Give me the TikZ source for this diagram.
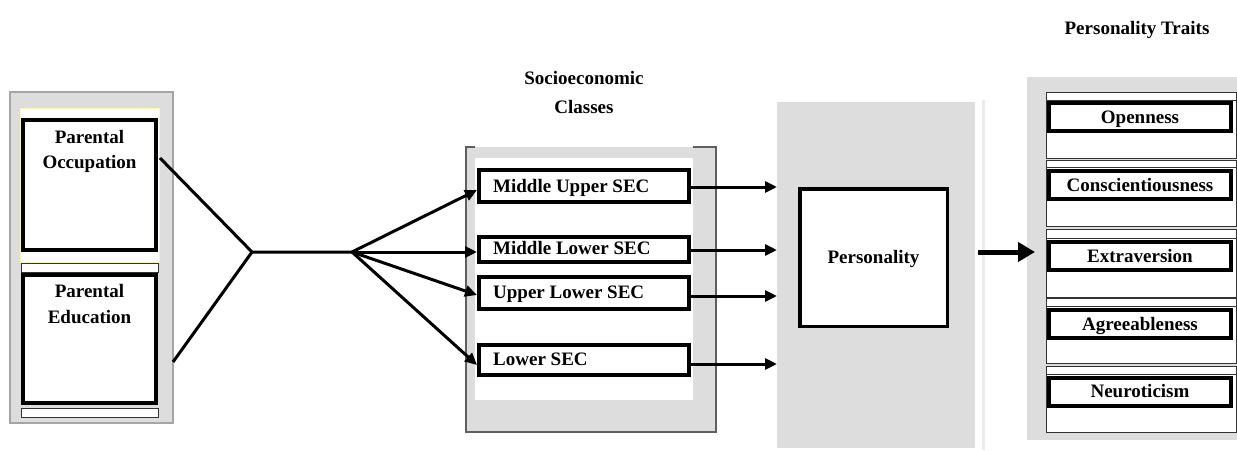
\documentclass[tikz,border=0pt]{standalone}
\usepackage{fontspec}
\setmainfont{Liberation Serif}
\usetikzlibrary{arrows.meta}
\definecolor{panel}{RGB}{221,221,221}
\definecolor{paneledge}{RGB}{165,165,165}
\definecolor{darkedge}{RGB}{95,95,95}
\definecolor{paleyellow}{RGB}{250,246,190}
\definecolor{sepline}{RGB}{236,236,236}
\begin{document}
\begin{tikzpicture}[x=1pt,y=-1pt,
  lbl/.style={font=\fontsize{19}{25}\selectfont\bfseries, inner sep=0pt},
  thickbox/.style={draw=black, fill=white, line width=4pt, inner sep=0pt},
  thinbox/.style={draw=black!80, fill=white, line width=0.8pt},
  trait/.style={thickbox, minimum width=182pt, minimum height=28pt,
    font=\fontsize{19}{25}\selectfont\bfseries, text height=12.5pt, text depth=0pt},
  link/.style={line width=3pt},
  arr/.style={line width=3pt, -{Triangle[length=12pt,width=11pt]}},
  bigarr/.style={line width=5pt, -{Triangle[length=17pt,width=19pt]}},
]
\useasboundingbox (0,0) rectangle (1237,450);

% ---------- left panel ----------
\fill[panel] (10,92) rectangle (173,423);
\draw[paneledge, line width=1.2pt] (10,92) rectangle (173,423);
\draw[paleyellow, fill=white, line width=0.8pt] (20,108) rectangle (159,262);
\node[thickbox, minimum width=133pt, minimum height=130pt] (occ) at (89.5,185) {};
\draw[thinbox] (21,263) rectangle (158,272);
\node[thickbox, minimum width=133pt, minimum height=128pt] (edu) at (89.5,339) {};
\draw[thinbox] (21,408) rectangle (158,417);
\node[lbl, align=center, anchor=base] (occt) at (89.5,168) {Parental\\Occupation};
\node[lbl, align=center, anchor=base] (edut) at (89.5,323) {Parental\\[1pt]Education};

% ---------- junction lines ----------
\coordinate (o1) at (160,158);
\coordinate (e1) at (173,362);
\coordinate (j1) at (252,252);
\coordinate (j2) at (352,252);
\draw[link] (o1) -- (j1) -- (j2);
\draw[link] (e1) -- (j1);

% ---------- middle panel ----------
\fill[panel] (466,147) rectangle (716,432);
\draw[darkedge, line width=1.2pt] (475,147) -- (466,147) -- (466,432) -- (716,432) -- (716,147) -- (693,147);
\fill[white] (475,158) rectangle (693,400);
\node[lbl, align=center, anchor=base] (sect) at (584,113) {Socioeconomic\\[4pt]Classes};

\node[thickbox, minimum width=210pt, minimum height=32pt] (mu) at (584,186) {};
\node[thickbox, minimum width=210pt, minimum height=25pt] (ml) at (584,249.5) {};
\node[thickbox, minimum width=210pt, minimum height=32pt] (ul) at (584,293) {};
\node[thickbox, minimum width=210pt, minimum height=30pt] (lo) at (584,360) {};
\node[lbl, anchor=base west] (mut) at (493,192) {Middle Upper SEC};
\node[lbl, anchor=base west] (mlt) at (493,254) {Middle Lower SEC};
\node[lbl, anchor=base west] (ult) at (493,298) {Upper Lower SEC};
\node[lbl, anchor=base west] (lot) at (493,365) {Lower SEC};

\draw[arr] (j2) -- ([yshift=-4pt]mu.west);
\draw[arr] (j2) -- ([yshift=-2.5pt]ml.west);
\draw[arr] (j2) -- ([yshift=-2pt]ul.west);
\draw[arr] (j2) -- ([yshift=-5pt]lo.west);

% ---------- personality panel ----------
\node[fill=panel, minimum width=198pt, minimum height=346pt, inner sep=0pt, outer sep=0pt] (pp) at (876,275) {};
\draw[sepline, line width=3pt] (983,100) -- (983,450);
\node[thickbox, line width=3.5pt, minimum width=147.5pt, minimum height=137.5pt,
      font=\fontsize{19}{25}\selectfont\bfseries, text height=12.5pt, text depth=0pt] (pers) at (873.5,257.5) {Personality};

\draw[arr] ([yshift=-1pt]mu.east) -- ([yshift=-1pt]mu.east -| pp.west);
\draw[arr] ([yshift=-0.5pt]ml.east) -- ([yshift=-0.5pt]ml.east -| pp.west);
\draw[arr] ([yshift=-3pt]ul.east) -- ([yshift=-3pt]ul.east -| pp.west);
\draw[arr] ([yshift=-4pt]lo.east) -- ([yshift=-4pt]lo.east -| pp.west);

% ---------- traits panel ----------
\fill[panel] (1027,77) rectangle (1240,440);
\node[lbl, anchor=base] (ptt) at (1137,34) {Personality Traits};
\foreach \t/\s/\b in {92/100/158, 160/167/226, 229/238/297, 298/306/363, 366/374/432} {
  \draw[thinbox] (1046,\t) rectangle (1236,\b);
  \draw[black!80, line width=0.8pt] (1046,\s) -- (1236,\s);
}
\node[trait] (open) at (1140,117) {Openness};
\node[trait] (cons) at (1140,185) {Conscientiousness};
\node[trait] (extr) at (1140,256) {Extraversion};
\node[trait] (agre) at (1140,324) {Agreeableness};
\node[trait] (neur) at (1140,391.5) {Neuroticism};

\coordinate (pa) at (978,252);
\coordinate (ta) at (1035,252);
\draw[bigarr] (pa) -- (ta);
\end{tikzpicture}
\end{document}
